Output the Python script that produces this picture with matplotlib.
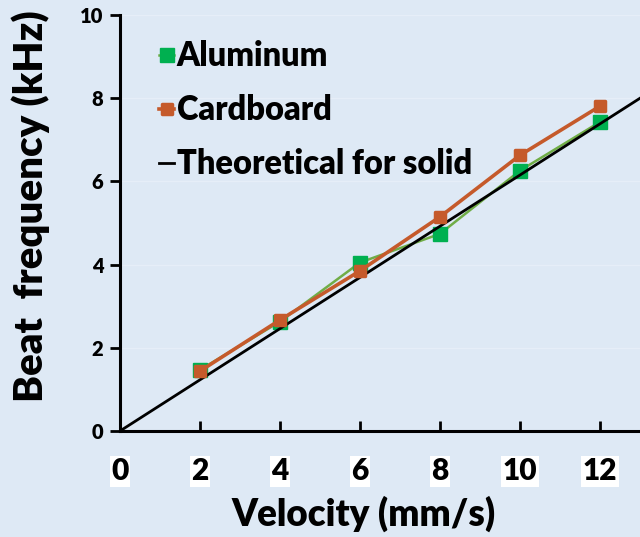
import matplotlib
matplotlib.use('Agg')
import matplotlib.pyplot as plt
from matplotlib.markers import MarkerStyle

BG_COLOR = '#dee9f5'
plt.rcParams['font.family'] = ['Lato', 'DejaVu Sans']
plt.rcParams['font.weight'] = 'heavy'
W = 'heavy'

velocity = [2, 4, 6, 8, 10, 12]
aluminum = [1.47, 2.63, 4.05, 4.74, 6.26, 7.43]
cardboard = [1.44, 2.67, 3.85, 5.15, 6.63, 7.81]
theory_x = [0, 13]
theory_y = [0, 8]
x_ticks = [0, 2, 4, 6, 8, 10, 12]
y_ticks = [0, 2, 4, 6, 8, 10]

fig = plt.figure(figsize=(6.4, 5.37), dpi=100)
fig.patch.set_facecolor(BG_COLOR)
ax = fig.add_axes([0.1875, 0.1974, 0.8125, 0.7746])
ax.set_facecolor(BG_COLOR)

ax.plot(velocity, aluminum, color='#70ad47', linewidth=1.8, marker='s',
        markersize=10, markerfacecolor='#00b050', markeredgecolor='#00b050',
        label='Aluminum', zorder=2)
ax.plot(theory_x, theory_y, color='black', linewidth=2,
        label='Theoretical for solid', zorder=3)
rounded = MarkerStyle('s', joinstyle='round')
ax.plot(velocity, cardboard, color='#c55a2b', linewidth=2.6, marker=rounded,
        markersize=7.5, markeredgewidth=2.5, markerfacecolor='#c55a2b',
        markeredgecolor='#c55a2b', label='Cardboard', zorder=4)

ax.set_xlim(0, 13)
ax.set_ylim(0, 10)
ax.set_xticks(x_ticks)
ax.set_yticks(y_ticks)
ax.grid(axis='y', color='#e6eef8', linewidth=1)
ax.set_axisbelow(True)

for s in ['top', 'right']:
    ax.spines[s].set_visible(False)
for s in ['left', 'bottom']:
    ax.spines[s].set_linewidth(2.2)

ax.tick_params(axis='x', direction='in', length=7, width=2, pad=19, labelsize=21.5)
ax.tick_params(axis='y', direction='out', length=7, width=2, pad=5, labelsize=14.5)
for lbl in ax.get_xticklabels():
    lbl.set_fontweight(W)
    lbl.set_bbox(dict(facecolor='white', edgecolor='none', pad=1.0))
for lbl in ax.get_yticklabels():
    lbl.set_fontweight(W)

ax.set_xlabel('Velocity (mm/s)', fontsize=26.5, fontweight=W)
ax.set_ylabel('Beat  frequency (kHz)', fontsize=29, fontweight=W)
ax.xaxis.set_label_coords(0.469, -0.155)
ax.yaxis.set_label_coords(-0.135, 0.54)

h, l = ax.get_legend_handles_labels()
order = [0, 2, 1]
leg = ax.legend([h[i] for i in order], [l[i] for i in order],
                loc='upper left', bbox_to_anchor=(0.032, 0.995), frameon=False,
                handlelength=0.45, handletextpad=0.08, borderaxespad=0.3,
                labelspacing=0.68, prop={'weight': W, 'size': 23.5})

plt.savefig('out.png', facecolor=fig.get_facecolor(), edgecolor='none')
plt.close()
